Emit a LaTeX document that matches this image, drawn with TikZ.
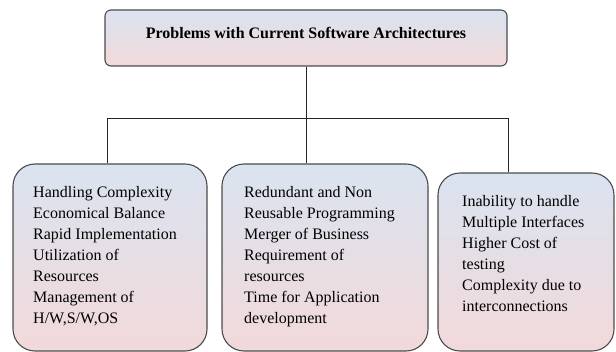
\documentclass[tikz,border=0pt]{standalone}
\usepackage{fontspec}
\setmainfont{Liberation Serif}
\definecolor{shadetop}{RGB}{218,227,240}
\definecolor{shademid}{RGB}{230,222,232}
\definecolor{shadebot}{RGB}{242,217,218}
\begin{document}
\begin{tikzpicture}[x=1pt,y=-1pt,
  boxfill/.style={draw=black!70, line width=1.1pt, top color=shadetop, middle color=shademid, bottom color=shadebot, inner sep=0pt},
  headbox/.style={boxfill, rounded corners=6pt, minimum width=402pt, minimum height=56pt},
  itembox/.style={boxfill, rounded corners=22pt},
  itemtext/.style={anchor=north west, inner sep=0pt, align=left, font=\fontsize{16pt}{21pt}\selectfont},
  wire/.style={draw=black!85, line width=0.9pt}]
\useasboundingbox (0,0) rectangle (616,352);

% header
\node[headbox] (top) at (306,38) {};
\node[anchor=base, inner sep=0pt, font=\fontsize{16pt}{19pt}\selectfont\bfseries] (title) at (306,38.5) {Problems with Current Software Architectures};

% three category boxes
\node[itembox, minimum width=194pt, minimum height=187pt] (left) at (110,257.5) {};
\node[itembox, minimum width=206pt, minimum height=187pt] (mid) at (325,257.5) {};
\node[itembox, minimum width=176pt, minimum height=178pt] (right) at (526,262) {};

\node[itemtext] (ltext) at (33,186.5) {Handling Complexity\\Economical Balance\\Rapid Implementation\\Utilization of\\Resources\\Management of\\H/W,S/W,OS};
\node[itemtext] (mtext) at (244,186.5) {Redundant and Non\\Reusable Programming\\Merger of Business\\Requirement of\\resources\\Time for Application\\development};
\node[itemtext] (rtext) at (462,195.5) {Inability to handle\\Multiple Interfaces\\Higher Cost of\\testing\\Complexity due to\\interconnections};

% tree connectors
\coordinate (jL) at (107,118);
\coordinate (jR) at (508,118);
\coordinate (jM) at (top.south |- jL);
\draw[wire] (top.south) -- (jM);
\draw[wire] (jL) -- (jR);
\draw[wire] (jL) -- (jL |- left.north);
\draw[wire] (jM) -- (jM |- mid.north);
\draw[wire] (jR) -- (jR |- right.north);
\end{tikzpicture}
\end{document}
